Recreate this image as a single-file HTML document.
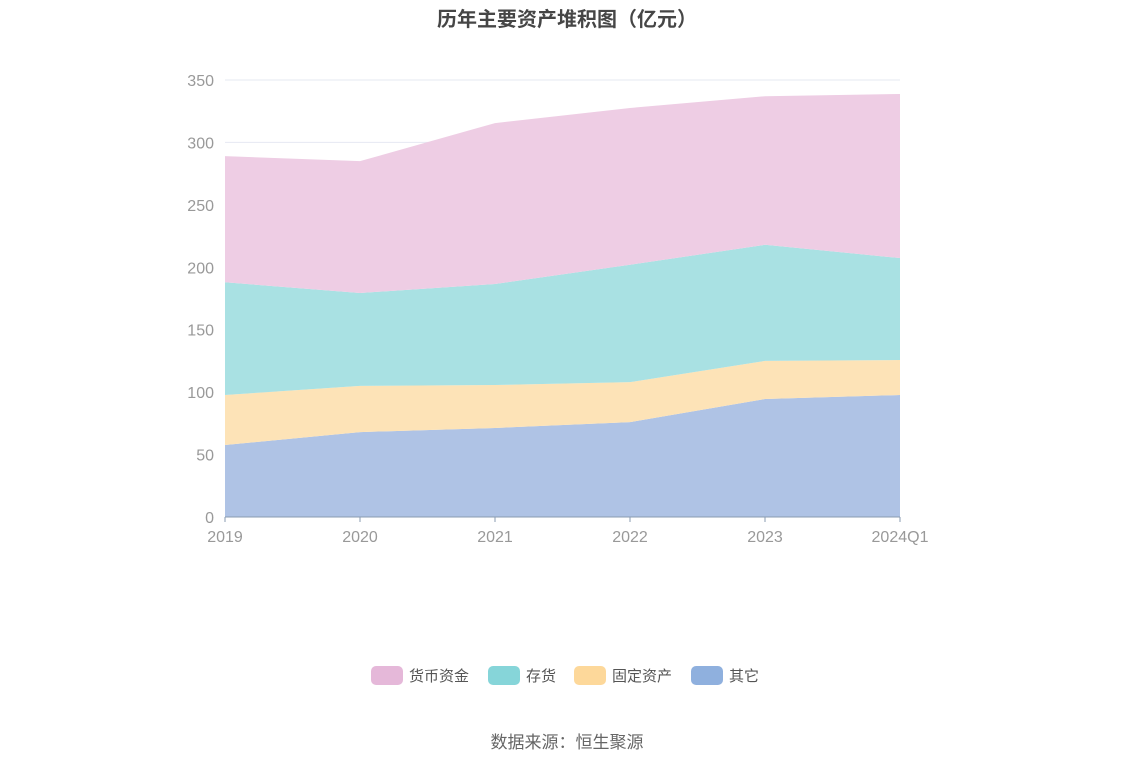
<!DOCTYPE html>
<html><head><meta charset="utf-8"><style>
body{margin:0;background:#fff;font-family:"Liberation Sans","Noto Sans CJK SC",sans-serif}
svg text{font-family:"Liberation Sans","Noto Sans CJK SC",sans-serif}
</style></head><body>
<svg id="chart" width="1134" height="766" xmlns="http://www.w3.org/2000/svg">
<text x="567" y="26" text-anchor="middle" font-size="20" font-weight="bold" fill="#464646">历年主要资产堆积图（亿元）</text>
<g id="grid"></g><g id="areas"></g><g id="axes"></g><g id="legend"></g>
<text x="567" y="748" text-anchor="middle" font-size="17" fill="#666">数据来源：恒生聚源</text>
</svg>
<script>
const categories=["2019","2020","2021","2022","2023","2024Q1"];
const seriesNames=["货币资金","存货","固定资产","其它"];
const other=[57.7,68,71.3,76,94.5,97.7];
const fixedAssets=[40,37,34.4,32,30.5,28];
const inventory=[90.3,74.4,80.9,94,93,81.7];
const cash=[101,105.6,128.9,125.6,119,131.4];
const yTicks=[0,50,100,150,200,250,300,350];
const NS="http://www.w3.org/2000/svg";
const x0=225,x1=900,yb=517,yt=80,ymax=350;
const xs=i=>x0+i*(x1-x0)/(categories.length-1);
const ys=v=>yb-v*(yb-yt)/ymax;
function mk(t,a,p){const e=document.createElementNS(NS,t);for(const k in a)e.setAttribute(k,a[k]);p.appendChild(e);return e;}
const grid=document.getElementById('grid'),axes=document.getElementById('axes'),areas=document.getElementById('areas'),legend=document.getElementById('legend');
yTicks.forEach(v=>{
 if(v>0){const l=mk('line',{x1:x0,x2:x1,y1:ys(v),y2:ys(v),stroke:'#e6e8f2'},grid);}
 const t=mk('text',{x:214,y:ys(v)+6,'text-anchor':'end','font-size':16,fill:'#999'},axes);t.textContent=v;
 
});
const stacks=[other,fixedAssets,inventory,cash];
const fills=['#afc3e5','#fde3b7','#a9e1e3','#eecde4'];
const legendColors=['#e5b8d9','#86d5d9','#fdd89a','#8fb0de'];
const names=['area-other','area-fixed-assets','area-inventory','area-cash'];
let base=categories.map(()=>0);
stacks.forEach((s,k)=>{
 const top=base.map((b,i)=>b+s[i]);
 let d='M'+categories.map((c,i)=>xs(i)+','+ys(top[i])).join('L');
 for(let i=categories.length-1;i>=0;i--)d+='L'+xs(i)+','+ys(base[i]);
 const p=mk('path',{d:d+'Z',fill:fills[k]},areas);
 
 base=top;
});
const ax=mk('line',{x1:x0,x2:x1,y1:yb,y2:yb,stroke:'#8a9bb0'},axes);
categories.forEach((c,i)=>{
 mk('line',{x1:xs(i),x2:xs(i),y1:yb,y2:yb+5,stroke:'#8a9bb0'},axes);
 const t=mk('text',{x:xs(i),y:542,'text-anchor':'middle','font-size':16,fill:'#999'},axes);t.textContent=c;
 
});
const lx=[371,488,574,691];
seriesNames.forEach((n,k)=>{
 const g=mk('g',{},legend);
 mk('rect',{x:lx[k],y:666,width:32,height:19,rx:5,fill:legendColors[k]},g);
 const t=mk('text',{x:lx[k]+38,y:681,'font-size':15,fill:'#555'},g);t.textContent=n;
});
</script>
</body></html>
